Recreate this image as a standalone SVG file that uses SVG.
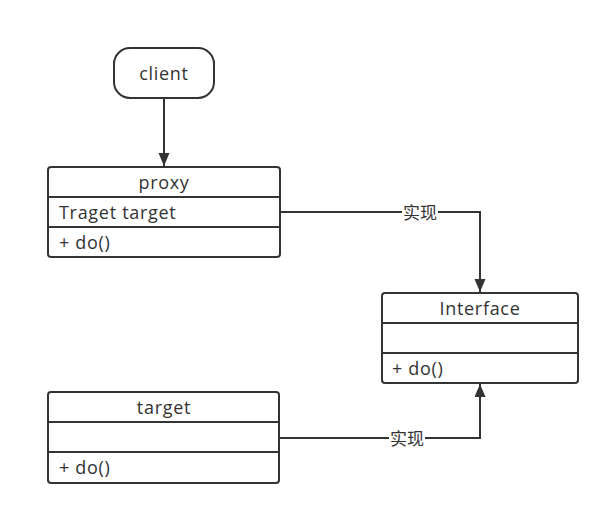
<svg xmlns="http://www.w3.org/2000/svg" width="610" height="516" viewBox="0 0 610 516">
<style>
.box{fill:#fff;stroke:#333;stroke-width:2}
.div{stroke:#333;stroke-width:2}
.t{font-family:"Open Sans","Liberation Sans","Noto Sans CJK SC",sans-serif;font-size:18px;fill:#333;letter-spacing:0.7px}
.c{text-anchor:middle}
.ln{fill:none;stroke:#333;stroke-width:2}
.lb{font-family:"Noto Sans CJK SC",sans-serif;font-size:17px;fill:#333;text-anchor:middle}
</style>
<defs>
<marker id="ah" markerWidth="14" markerHeight="12" refX="13" refY="5.5" orient="auto" markerUnits="userSpaceOnUse">
<path d="M0,0 L13,5.5 L0,11 Z" fill="#333"/>
</marker>
</defs>
<rect width="610" height="516" fill="#fff"/>
<g id="connectors">
<path class="ln" d="M164,98 V166" marker-end="url(#ah)"/>
<path class="ln" d="M280,212 H480 V292" marker-end="url(#ah)"/>
<path class="ln" d="M280,438 H480 V384" marker-end="url(#ah)"/>
<rect x="402" y="202" width="36" height="22" fill="#fff"/>
<text class="lb" x="420" y="219">实现</text>
<rect x="389" y="428" width="36" height="22" fill="#fff"/>
<text class="lb" x="407" y="445">实现</text>
</g>
<g id="client">
<rect class="box" x="114" y="48" width="100" height="50" rx="16"/>
<text class="t c" x="164" y="80">client</text>
</g>
<g id="proxy">
<rect class="box" x="48" y="167" width="232" height="90" rx="3"/>
<line class="div" x1="48" y1="197" x2="280" y2="197"/>
<line class="div" x1="48" y1="227" x2="280" y2="227"/>
<text class="t c" x="164" y="189">proxy</text>
<text class="t" x="59" y="219">Traget target</text>
<text class="t" x="59" y="249">+ do()</text>
</g>
<g id="interface">
<rect class="box" x="382" y="293" width="196" height="90" rx="3"/>
<line class="div" x1="382" y1="323" x2="578" y2="323"/>
<line class="div" x1="382" y1="353" x2="578" y2="353"/>
<text class="t c" x="480" y="315">Interface</text>
<text class="t" x="392" y="375">+ do()</text>
</g>
<g id="target">
<rect class="box" x="48" y="392" width="231" height="91" rx="3"/>
<line class="div" x1="48" y1="422" x2="279" y2="422"/>
<line class="div" x1="48" y1="452" x2="279" y2="452"/>
<text class="t c" x="164" y="414">target</text>
<text class="t" x="59" y="474">+ do()</text>
</g>
</svg>
